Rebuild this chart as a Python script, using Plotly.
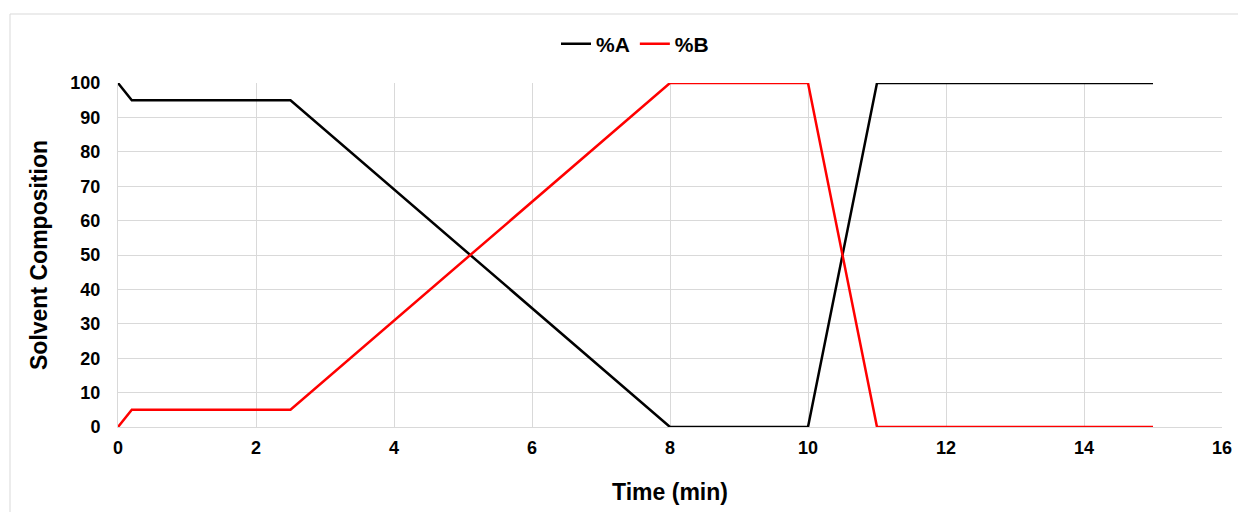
import plotly.graph_objects as go

time_a = [0, 0.2, 2.5, 8, 10, 11, 15]
pct_a = [100, 95, 95, 0, 0, 100, 100]
time_b = [0, 0.2, 2.5, 8, 10, 11, 15]
pct_b = [0, 5, 5, 100, 100, 0, 0]

x_ticks = [0, 2, 4, 6, 8, 10, 12, 14, 16]
y_ticks = [0, 10, 20, 30, 40, 50, 60, 70, 80, 90, 100]

FONT = "Liberation Sans"

# page body has an 8px margin; figure origin sits at (8, 8) in the window
OFF = 8
W, H = 1246 - OFF, 512 - OFF
L, R, T, B = 118 - OFF, 1246 - 1222, 83 - OFF, 512 - 427
PW, PH = W - L - R, H - T - B

fig = go.Figure()
fig.add_trace(go.Scatter(x=time_a, y=pct_a, mode="lines", name="%A",
                         line=dict(color="#000000", width=2.5)))
fig.add_trace(go.Scatter(x=time_b, y=pct_b, mode="lines", name="%B",
                         line=dict(color="#FF0000", width=2.5)))

fig.update_layout(
    width=W, height=H,
    margin=dict(l=L, r=R, t=T, b=B, autoexpand=False),
    paper_bgcolor="white", plot_bgcolor="white",
    font=dict(family=FONT, color="#000000"),
    showlegend=True,
    legend=dict(orientation="h", x=(635 - 118) / PW, xanchor="center",
                yref="container", y=1 - (44 - OFF) / H, yanchor="middle",
                font=dict(family=FONT, size=21, color="#000000", weight="bold"),
                tracegroupgap=0),
    xaxis=dict(range=[0, 16], tickvals=x_ticks, ticktext=[str(v) for v in x_ticks],
               showgrid=True, gridcolor="#D9D9D9", gridwidth=1,
               showline=True, linecolor="#D9D9D9", linewidth=1,
               zeroline=False, ticks="", ticklen=0, automargin=False,
               ticklabelstandoff=4,
               tickfont=dict(family=FONT, size=18, color="#000000", weight="bold"),
               title=dict(text="Time (min)", standoff=27,
                          font=dict(family=FONT, size=23, color="#000000", weight="bold"))),
    yaxis=dict(range=[0, 100], tickvals=y_ticks, ticktext=[str(v) for v in y_ticks],
               showgrid=True, gridcolor="#D9D9D9", gridwidth=1,
               showline=True, linecolor="#D9D9D9", linewidth=1,
               zeroline=False, ticks="", ticklen=0, automargin=False,
               ticklabelstandoff=13,
               tickfont=dict(family=FONT, size=18, color="#000000", weight="bold"),
               title=dict(text="Solvent Composition", standoff=16,
                          font=dict(family=FONT, size=23, color="#000000", weight="bold"))),
    shapes=[dict(type="rect", xref="paper", yref="paper",
                 x0=(10 - 118) / PW, x1=(1260 - 118) / PW,
                 y0=(427 - 530) / PH, y1=(427 - 14) / PH,
                 line=dict(color="#D9D9D9", width=1), fillcolor="rgba(0,0,0,0)",
                 layer="below")],
)

fig.write_html("out.html")
